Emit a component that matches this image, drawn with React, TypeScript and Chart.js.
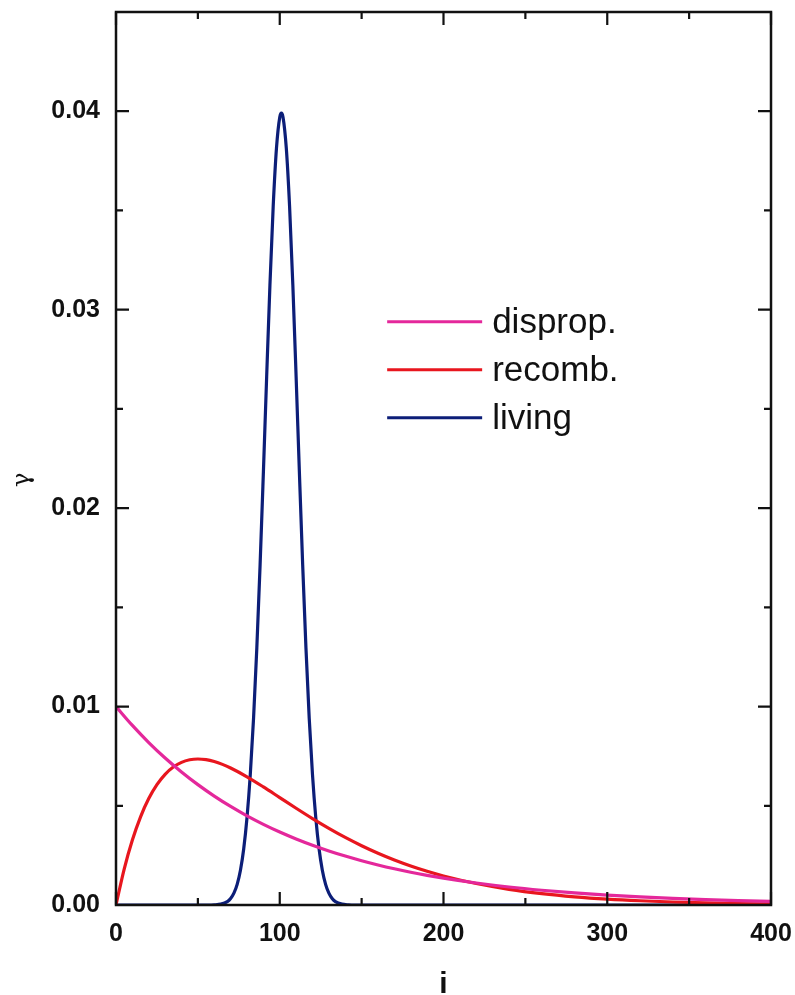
import React, { useEffect, useRef } from "react";
import { Chart, registerables } from "chart.js";

Chart.register(...registerables);

// disproportionation
const dispI = [0, 10, 20, 30, 40, 50, 60, 70, 80, 90, 100, 110, 120, 130, 140, 150, 160, 170, 180, 190, 200, 220, 240, 260, 280, 300, 320, 340, 360, 380, 400];
const dispY = [0.01, 0.009048, 0.008187, 0.007408, 0.006703, 0.006065, 0.005488, 0.004966, 0.004493, 0.004066, 0.003679, 0.003329, 0.003012, 0.002725, 0.002466, 0.002231, 0.002019, 0.001827, 0.001653, 0.001496, 0.001353, 0.001108, 0.000907, 0.000743, 0.000608, 0.000498, 0.000408, 0.000334, 0.000273, 0.000224, 0.000183];

// recombination
const recI = [0, 5, 10, 15, 20, 25, 30, 35, 40, 45, 50, 55, 60, 65, 70, 80, 90, 100, 110, 120, 130, 140, 150, 160, 170, 180, 190, 200, 220, 240, 260, 280, 300, 320, 340, 360, 380, 400];
const recY = [0, 0.00181, 0.003275, 0.004445, 0.005363, 0.006065, 0.006586, 0.006952, 0.007189, 0.007318, 0.007358, 0.007324, 0.007229, 0.007086, 0.006905, 0.006461, 0.005951, 0.005413, 0.004875, 0.004354, 0.003862, 0.003405, 0.002987, 0.002609, 0.002269, 0.001967, 0.0017, 0.001465, 0.001081, 0.00079, 0.000574, 0.000414, 0.000297, 0.000213, 0.000152, 0.000108, 0.000076, 0.000054];

// living
const livI = [0, 56, 60, 64, 68, 70, 72, 74, 76, 78, 80, 82, 84, 86, 88, 90, 92, 94, 96, 98, 100, 101, 102, 104, 106, 108, 110, 112, 114, 116, 118, 120, 122, 124, 126, 128, 130, 132, 134, 138, 142, 146, 400];
const livY = [0, 0, 0.0000089, 0.0000425, 0.000172, 0.000327, 0.000595, 0.001042, 0.001753, 0.002833, 0.0044, 0.006564, 0.009405, 0.01296, 0.01714, 0.02179, 0.02661, 0.03123, 0.03521, 0.03814, 0.0397, 0.0399, 0.0397, 0.03814, 0.03521, 0.03123, 0.02661, 0.02179, 0.01714, 0.01296, 0.009405, 0.006564, 0.0044, 0.002833, 0.001753, 0.001042, 0.000595, 0.000327, 0.000172, 0.0000425, 0.0000089, 0, 0];

const seriesLabels = ["disprop.", "recomb.", "living"];
const seriesColors = ["#E4289B", "#E8161E", "#0C1E78"];

const xMajor = [0, 100, 200, 300, 400];
const xMinor = [50, 150, 250, 350];
const yMajor = [0, 0.01, 0.02, 0.03, 0.04];
const yMinor = [0.005, 0.015, 0.025, 0.035];

const yTitle = "γ";

const toPts = (xs: number[], ys: number[]) => xs.map((x, k) => ({ x, y: ys[k] }));

const framePlugin = {
  id: "frame",
  afterDatasetsDraw(chart: any) {
    const { ctx, chartArea: a, scales } = chart;
    const xs = scales.x;
    const ys = scales.y;
    ctx.save();
    ctx.strokeStyle = "#111";
    ctx.lineWidth = 2.5;
    ctx.strokeRect(a.left, a.top, a.right - a.left, a.bottom - a.top);
    const major = 13;
    const minor = 7;
    ctx.lineWidth = 2.2;
    ctx.beginPath();
    const xt = (v: number, len: number) => {
      const p = xs.getPixelForValue(v);
      ctx.moveTo(p, a.bottom);
      ctx.lineTo(p, a.bottom - len);
      ctx.moveTo(p, a.top);
      ctx.lineTo(p, a.top + len);
    };
    const yt = (v: number, len: number) => {
      const p = ys.getPixelForValue(v);
      ctx.moveTo(a.left, p);
      ctx.lineTo(a.left + len, p);
      ctx.moveTo(a.right, p);
      ctx.lineTo(a.right - len, p);
    };
    xMajor.forEach((v) => xt(v, major));
    xMinor.forEach((v) => xt(v, minor));
    yMajor.forEach((v) => yt(v, major));
    yMinor.forEach((v) => yt(v, minor));
    ctx.stroke();

    // y title
    ctx.save();
    ctx.translate(23, a.top + (a.bottom - a.top) * 0.524);
    ctx.rotate(-Math.PI / 2);
    ctx.font = "24px 'DejaVu Serif', serif";
    ctx.fillStyle = "#111";
    ctx.textAlign = "center";
    ctx.textBaseline = "middle";
    ctx.fillText(yTitle, 0, 0);
    ctx.restore();

    // legend
    const w = a.right - a.left;
    const h = a.bottom - a.top;
    const lx0 = a.left + w * 0.414;
    const lx1 = a.left + w * 0.559;
    const ly0 = a.top + h * 0.347;
    const dy = 48;
    ctx.font = "35px 'Liberation Sans', Arial, sans-serif";
    ctx.textBaseline = "middle";
    ctx.textAlign = "left";
    chart.data.datasets.forEach((ds: any, k: number) => {
      const y = ly0 + k * dy;
      ctx.strokeStyle = ds.borderColor;
      ctx.lineWidth = 3;
      ctx.beginPath();
      ctx.moveTo(lx0, y);
      ctx.lineTo(lx1, y);
      ctx.stroke();
      ctx.fillStyle = "#111";
      ctx.fillText(ds.label, lx1 + 10, y + 1);
    });
    ctx.restore();
  },
};

export default function App() {
  const ref = useRef<HTMLCanvasElement | null>(null);
  useEffect(() => {
    document.body.style.margin = "0";
    const canvas = ref.current;
    if (!canvas) return;
    const chart = new Chart(canvas, {
      type: "scatter",
      data: {
        datasets: [
          { label: seriesLabels[0], data: toPts(dispI, dispY), borderColor: seriesColors[0] },
          { label: seriesLabels[1], data: toPts(recI, recY), borderColor: seriesColors[1] },
          { label: seriesLabels[2], data: toPts(livI, livY), borderColor: seriesColors[2] },
        ].map((d) => ({
          ...d,
          showLine: true,
          pointRadius: 0,
          borderWidth: 3.2,
          fill: false,
          cubicInterpolationMode: "monotone" as const,
          backgroundColor: d.borderColor,
        })),
      },
      options: {
        responsive: false,
        animation: false,
        layout: { padding: { left: 0, right: 24, top: 12, bottom: 0 } },
        plugins: { legend: { display: false }, tooltip: { enabled: false } },
        scales: {
          x: {
            type: "linear",
            min: 0,
            max: 400,
            grid: { display: false, drawTicks: false },
            border: { display: false },
            ticks: {
              stepSize: 100,
              padding: 14,
              color: "#111",
              font: { family: "'Liberation Sans', Arial, sans-serif", size: 25, weight: "bold" },
              callback: (v: any) => String(v),
            },
            title: {
              display: true,
              text: "i",
              color: "#111",
              font: { family: "'Liberation Sans', Arial, sans-serif", size: 30, weight: "bold" },
              padding: { top: 4, bottom: -8 },
            },
            afterFit: (s: any) => {
              s.height = 90;
              s.paddingLeft = 0;
              s.paddingRight = 0;
            },
          },
          y: {
            type: "linear",
            min: 0,
            max: 0.045,
            grid: { display: false, drawTicks: false },
            border: { display: false },
            ticks: {
              stepSize: 0.01,
              includeBounds: false,
              padding: 16,
              color: "#111",
              font: { family: "'Liberation Sans', Arial, sans-serif", size: 25, weight: "bold" },
              callback: (v: any) => Number(v).toFixed(2),
            },
            title: { display: false },
            afterFit: (s: any) => {
              s.width = 116;
              s.paddingTop = 0;
              s.paddingBottom = 0;
            },
          },
        },
      },
      plugins: [framePlugin],
    });
    return () => chart.destroy();
  }, []);
  return <canvas ref={ref} width={795} height={995} style={{ display: "block" }} />;
}
